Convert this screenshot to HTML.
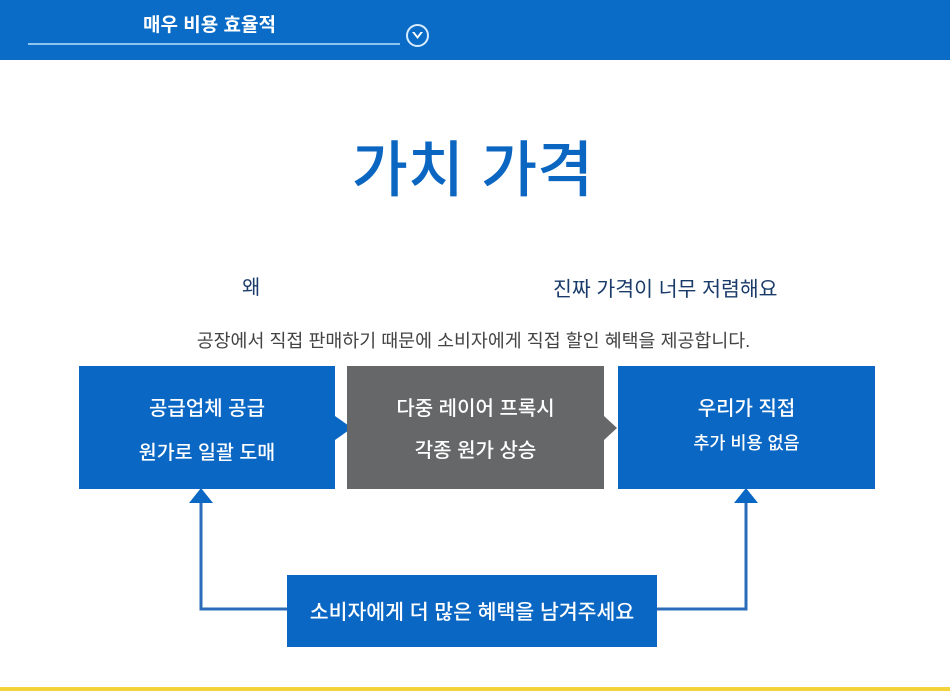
<!DOCTYPE html>
<html><head><meta charset="utf-8"><style>
body{margin:0;width:950px;height:691px;position:relative;background:#fff;font-family:"Liberation Sans","Noto Sans CJK KR",sans-serif;overflow:hidden}
.a{position:absolute}
.box{position:absolute;color:#fff;text-align:center;font-weight:500}
</style></head><body>
<div class="a" style="left:0;top:0;width:950px;height:60px;background:#0a6cc6"></div>
<div class="a" style="left:28px;top:43px;width:372px;height:2px;background:#8ec4f0"></div>
<div class="a" style="left:143px;top:10px;color:#fff;font-size:19px;font-weight:bold">매우 비용 효율적</div>
<svg class="a" style="left:405px;top:23px" width="25" height="25"><circle cx="12.5" cy="12.5" r="10.5" fill="none" stroke="#d8ecff" stroke-width="2"/><path d="M7 9 L12.5 16 L18 9 L15.5 9 L12.5 13 L9.5 9Z" fill="#fff"/></svg>
<div class="a" style="left:0;top:120px;width:945px;text-align:center;font-size:61px;color:#0b66c2;font-weight:500">가치 가격</div>
<div class="a" style="left:242px;top:271px;font-size:20px;color:#1a3b6a">왜</div>
<div class="a" style="left:553px;top:272px;font-size:20.5px;color:#1a3b6a">진짜 가격이 너무 저렴해요</div>
<div class="a" style="left:0;top:327px;width:947px;text-align:center;font-size:18.4px;color:#444">공장에서 직접 판매하기 때문에 소비자에게 직접 할인 혜택을 제공합니다.</div>
<svg class="a" style="left:0;top:0" width="950" height="691">
<rect x="79" y="366" width="256" height="123" fill="#0b67c4"/>
<polygon points="335,416 352,428 335,440" fill="#0b67c4"/>
<rect x="347" y="366" width="257" height="123" fill="#666768"/>
<polygon points="604,416 617,428 604,440" fill="#666768"/>
<rect x="618" y="366" width="257" height="123" fill="#0b67c4"/>
<rect x="287" y="575" width="370" height="72" fill="#0b67c4"/>
<polyline points="287,609 201,609 201,500" fill="none" stroke="#2a6cb8" stroke-width="3"/>
<polygon points="189,503 201,488 213,503" fill="#0b67c4"/>
<polyline points="657,609 746,609 746,500" fill="none" stroke="#2a6cb8" stroke-width="3"/>
<polygon points="734,503 746,488 758,503" fill="#0b67c4"/>
<rect x="0" y="687" width="950" height="4" fill="#f2d43a"/>
</svg>
<div class="box" style="left:79px;top:392px;width:256px;font-size:20px">공급업체 공급</div>
<div class="box" style="left:79px;top:436px;width:256px;font-size:19.5px">원가로 일괄 도매</div>
<div class="box" style="left:347px;top:392px;width:257px;font-size:20px">다중 레이어 프록시</div>
<div class="box" style="left:347px;top:434px;width:257px;font-size:20px">각종 원가 상승</div>
<div class="box" style="left:618px;top:392px;width:257px;font-size:20px">우리가 직접</div>
<div class="box" style="left:618px;top:430px;width:257px;font-size:17.5px">추가 비용 없음</div>
<div class="box" style="left:287px;top:595px;width:370px;font-size:20.5px">소비자에게 더 많은 혜택을 남겨주세요</div>
</body></html>
